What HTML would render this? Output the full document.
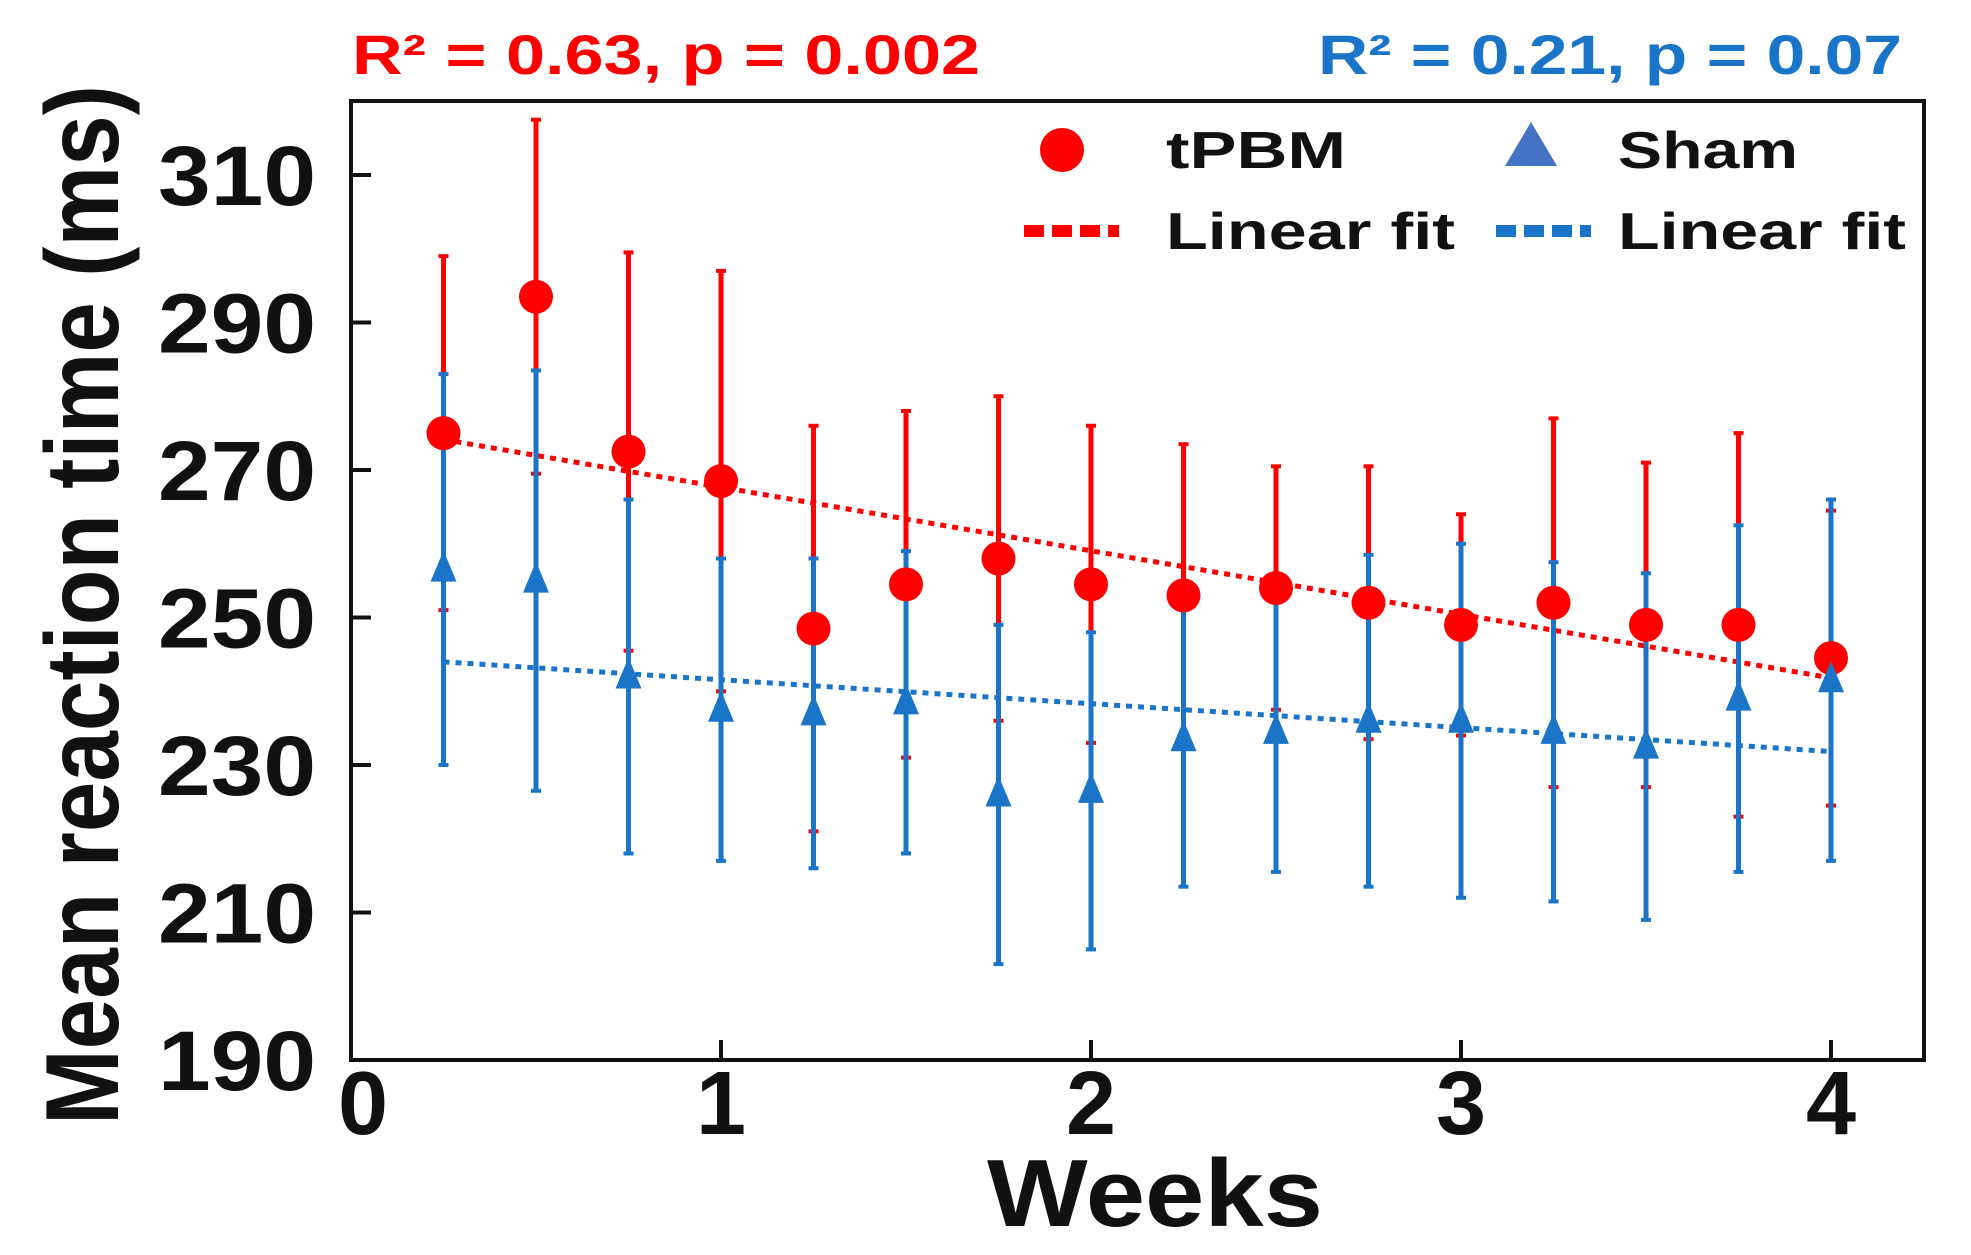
<!DOCTYPE html>
<html><head><meta charset="utf-8"><style>
html,body{margin:0;padding:0;background:#fff;}
svg{display:block;font-family:"Liberation Sans",sans-serif;font-weight:bold;}
</style></head><body>
<svg id="chart" width="1971" height="1255" viewBox="0 0 1971 1255">
<g id="marks"></g>
<rect x="351" y="101" width="1573" height="959" fill="none" stroke="#111" stroke-width="4"/>
<g id="axes"></g>
<text x="352" y="74" font-size="56" fill="#f00" textLength="628" lengthAdjust="spacingAndGlyphs">R² = 0.63, p = 0.002</text>
<text x="1318" y="74" font-size="56" fill="#1a75c8" textLength="584" lengthAdjust="spacingAndGlyphs">R² = 0.21, p = 0.07</text>
<text transform="translate(118,605) rotate(-90)" text-anchor="middle" font-size="104" fill="#111" textLength="1040" lengthAdjust="spacingAndGlyphs">Mean reaction time (ms)</text>
<text x="1155" y="1226" text-anchor="middle" font-size="96" fill="#111" textLength="336" lengthAdjust="spacingAndGlyphs">Weeks</text>
<g>
<circle cx="1062" cy="150" r="22" fill="#f00"/>
<text x="1166" y="168" font-size="52" fill="#111" textLength="180" lengthAdjust="spacingAndGlyphs">tPBM</text>
<polygon points="1531,122 1557,166 1505,166" fill="#4472c4"/>
<text x="1618" y="168" font-size="52" fill="#111" textLength="180" lengthAdjust="spacingAndGlyphs">Sham</text>
<line x1="1024" y1="231" x2="1119" y2="231" stroke="#f00" stroke-width="12" stroke-dasharray="20,8"/>
<text x="1166" y="249" font-size="52" fill="#111" textLength="289" lengthAdjust="spacingAndGlyphs">Linear fit</text>
<line x1="1496" y1="231" x2="1591" y2="231" stroke="#1a75c8" stroke-width="12" stroke-dasharray="20,8"/>
<text x="1618" y="249" font-size="52" fill="#111" textLength="288" lengthAdjust="spacingAndGlyphs">Linear fit</text>
</g>
</svg>
<script>
const weeks=[0.25,0.5,0.75,1,1.25,1.5,1.75,2,2.25,2.5,2.75,3,3.25,3.5,3.75,4];
const tpbmMean=[275,293.5,272.5,268.5,248.5,254.5,258,254.5,253,254,252,249,252,249,249,244.5];
const tpbmErr=[24,24,27,28.5,27.5,23.5,22,21.5,20.5,16.5,18.5,15,25,22,26,20];
const shamMean=[256.5,255,242,237.5,237,238.5,226,226.5,233.5,234.5,236,236,234.5,232.5,239,241.5];
const shamErr=[26.5,28.5,24,20.5,21,20.5,23,21.5,20,19,22.5,24,23,23.5,23.5,24.5];
const yTicks=[190,210,230,250,270,290,310];
const xTicks=[0,1,2,3,4];
const X=v=>351+v*370, Y=v=>1060-(v-190)*147.5/20;
const NS="http://www.w3.org/2000/svg";
const marks=document.getElementById('marks'), axes=document.getElementById('axes');
function mk(tag,attrs,parent){const e=document.createElementNS(NS,tag);for(const k in attrs)e.setAttribute(k,attrs[k]);parent.appendChild(e);return e;}
function fit(xs,ys){const n=xs.length;const mx=xs.reduce((a,b)=>a+b)/n,my=ys.reduce((a,b)=>a+b)/n;let sxy=0,sxx=0;for(let i=0;i<n;i++){sxy+=(xs[i]-mx)*(ys[i]-my);sxx+=(xs[i]-mx)**2;}const b=sxy/sxx;return [my-b*mx,b];}
function series(mean,err,color,name){
  mean.forEach((m,i)=>{
    const x=X(weeks[i]);
    const l=mk('line',{x1:x,x2:x,y1:Y(m+err[i]),y2:Y(m-err[i]),stroke:color,'stroke-width':5},marks);
    
    
    [m+err[i],m-err[i]].forEach(v=>{const c=mk('line',{x1:x-5,x2:x+5,y1:Y(v),y2:Y(v),stroke:color,'stroke-width':4},marks);
      
      });
  });
  const [a,b]=fit(weeks,mean);
  const f=mk('line',{x1:X(weeks[0]),y1:Y(a+b*weeks[0]),x2:X(weeks[weeks.length-1]),y2:Y(a+b*weeks[weeks.length-1]),stroke:color,'stroke-width':5,'stroke-dasharray':'6,6'},marks);
  
  
}
function points(mean,color,name,tri){
  mean.forEach((m,i)=>{
    const x=X(weeks[i]),y=Y(m);let p;
    if(tri)p=mk('polygon',{points:`${x},${y-19} ${x+13},${y+12} ${x-13},${y+12}`,fill:color},marks);
    else p=mk('circle',{cx:x,cy:y,r:17,fill:color},marks);
    
    
  });
}
series(tpbmMean,tpbmErr,'#f00','tpbm');
series(shamMean,shamErr,'#1a75c8','sham');
points(tpbmMean,'#f00','tpbm',false);
points(shamMean,'#1a75c8','sham',true);
yTicks.forEach(v=>{
  const t=mk('line',{x1:351,x2:371,y1:Y(v),y2:Y(v),stroke:'#111','stroke-width':4},axes);
  
  
  const s=mk('text',{x:316,y:Y(v)+30,'text-anchor':'end','font-size':84,fill:'#111',textLength:158,lengthAdjust:'spacingAndGlyphs'},axes);
  s.textContent=v;
  
  
});
xTicks.forEach(v=>{
  const t=mk('line',{x1:X(v),x2:X(v),y1:1060,y2:1040,stroke:'#111','stroke-width':4},axes);
  
  
  const s=mk('text',{x:X(v)+(v===0?12:0),y:1134,'text-anchor':'middle','font-size':90,fill:'#111'},axes);
  s.textContent=v;
  
  
});
</script>
</body></html>
